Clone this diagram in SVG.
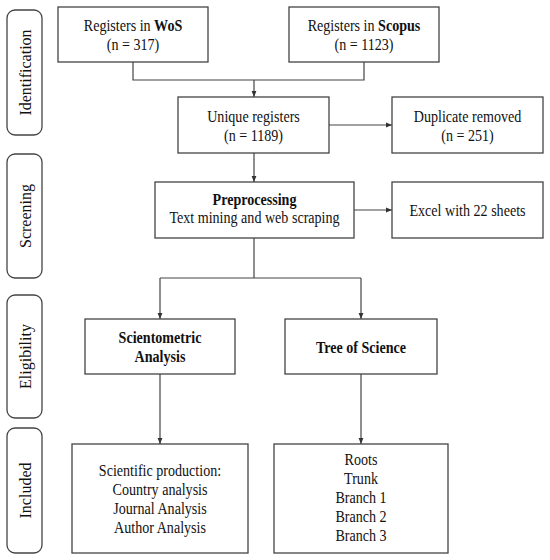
<svg xmlns="http://www.w3.org/2000/svg" width="550" height="560" viewBox="0 0 550 560">
<defs>
<marker id="arr" viewBox="0 0 10 10" refX="10" refY="5" markerWidth="6" markerHeight="6" orient="auto" markerUnits="userSpaceOnUse">
<path d="M0,1 L10,5 L0,9 z" fill="#333"/>
</marker>
<style>
.box{fill:#fff;stroke:#444;stroke-width:1.3}
.side{fill:#fff;stroke:#444;stroke-width:1.3}
.t{font-family:"Liberation Serif","Times New Roman",serif;font-size:16px;fill:#111;text-anchor:middle}
.b{font-weight:bold}
.st{font-family:"Liberation Serif","Times New Roman",serif;font-size:16px;fill:#111;text-anchor:middle;dominant-baseline:central}
.c{fill:none;stroke:#444;stroke-width:1.2}
</style>
</defs>
<rect width="550" height="560" fill="#fff"/>
<g id="phases">
<g id="phase-identification"><rect class="side" x="7" y="10" width="35" height="125" rx="8"/><text class="st" transform="translate(25,72.5) rotate(-90)">Identification</text></g>
<g id="phase-screening"><rect class="side" x="7" y="154" width="35" height="124" rx="8"/><text class="st" transform="translate(25,216) rotate(-90)">Screening</text></g>
<g id="phase-eligibility"><rect class="side" x="7" y="295" width="35" height="123" rx="8"/><text class="st" transform="translate(25,356.5) rotate(-90)">Eligibility</text></g>
<g id="phase-included"><rect class="side" x="7" y="428" width="35" height="125" rx="8"/><text class="st" transform="translate(25,490.5) rotate(-90)">Included</text></g>
</g>
<g id="connectors">
<path class="c" d="M133,62 V80 H364 V62"/>
<path class="c" d="M254,80 V97" marker-end="url(#arr)"/>
<path class="c" d="M329,125 H392" marker-end="url(#arr)"/>
<path class="c" d="M254,153 V182" marker-end="url(#arr)"/>
<path class="c" d="M354,210 H392" marker-end="url(#arr)"/>
<path class="c" d="M254,238 V278 M160,278 H361"/>
<path class="c" d="M160,278 V319" marker-end="url(#arr)"/>
<path class="c" d="M361,278 V319" marker-end="url(#arr)"/>
<path class="c" d="M160,374 V444" marker-end="url(#arr)"/>
<path class="c" d="M361,374 V444" marker-end="url(#arr)"/>
</g>
<g id="wos"><rect class="box" x="58" y="7" width="150" height="55"/><g transform="translate(133,0) scale(0.88,1)"><text class="t" x="0" y="31">Registers in  <tspan class="b">WoS</tspan></text><text class="t" x="0" y="50">(n = 317)</text></g></g>
<g id="scopus"><rect class="box" x="289" y="7" width="150" height="55"/><g transform="translate(364,0) scale(0.88,1)"><text class="t" x="0" y="31">Registers in <tspan class="b">Scopus</tspan></text><text class="t" x="0" y="50">(n = 1123)</text></g></g>
<g id="unique"><rect class="box" x="178" y="97" width="151" height="56"/><g transform="translate(253.5,0) scale(0.88,1)"><text class="t" x="0" y="122">Unique registers</text><text class="t" x="0" y="141">(n = 1189)</text></g></g>
<g id="duplicate"><rect class="box" x="392" y="97" width="151" height="56"/><g transform="translate(467.5,0) scale(0.88,1)"><text class="t" x="0" y="122">Duplicate removed</text><text class="t" x="0" y="141">(n = 251)</text></g></g>
<g id="preprocessing"><rect class="box" x="155" y="182" width="199" height="56"/><g transform="translate(254.5,0) scale(0.88,1)"><text class="t b" x="0" y="205">Preprocessing</text><text class="t" x="0" y="223">Text mining and web scraping</text></g></g>
<g id="excel"><rect class="box" x="392" y="182" width="151" height="56"/><g transform="translate(467.5,0) scale(0.88,1)"><text class="t" x="0" y="216">Excel with 22 sheets</text></g></g>
<g id="scientometric"><rect class="box" x="85" y="319" width="150" height="55"/><g transform="translate(160,0) scale(0.88,1)"><text class="t b" x="0" y="343">Scientometric</text><text class="t b" x="0" y="362">Analysis</text></g></g>
<g id="tos"><rect class="box" x="285" y="319" width="152" height="55"/><g transform="translate(361,0) scale(0.88,1)"><text class="t b" x="0" y="353">Tree of Science</text></g></g>
<g id="production"><rect class="box" x="72" y="444" width="176" height="109"/><g transform="translate(160,0) scale(0.88,1)"><text class="t" x="0" y="476">Scientific production:</text><text class="t" x="0" y="495">Country analysis</text><text class="t" x="0" y="514">Journal Analysis</text><text class="t" x="0" y="533">Author Analysis</text></g></g>
<g id="branches"><rect class="box" x="274" y="444" width="174" height="109"/><g transform="translate(361,0) scale(0.88,1)"><text class="t" x="0" y="465">Roots</text><text class="t" x="0" y="484">Trunk</text><text class="t" x="0" y="503">Branch 1</text><text class="t" x="0" y="522">Branch 2</text><text class="t" x="0" y="541">Branch 3</text></g></g>
</svg>
